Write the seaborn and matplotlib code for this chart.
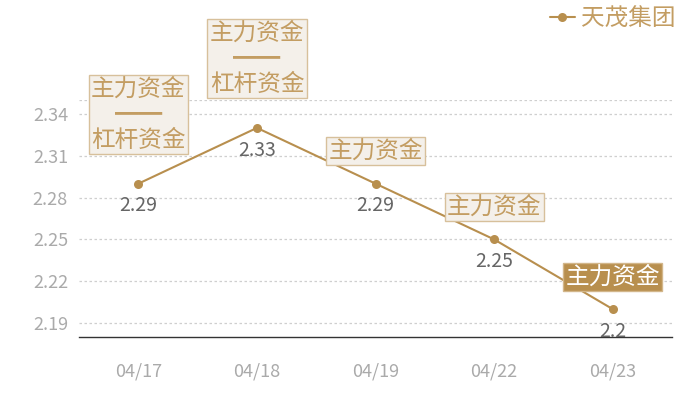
import matplotlib
matplotlib.use("Agg")
import matplotlib.pyplot as plt
import seaborn as sns
import pandas as pd

dates = ["04/17", "04/18", "04/19", "04/22", "04/23"]
values = [2.29, 2.33, 2.29, 2.25, 2.20]
notes = ["主力资金\n━━\n杠杆资金", "主力资金\n━━\n杠杆资金", "主力资金", "主力资金", "主力资金"]
highlight = [False, False, False, False, True]
series_name = "天茂集团"
yticks = [2.19, 2.22, 2.25, 2.28, 2.31, 2.34]

GOLD = "#b88f4e"
TEXT_GOLD = "#c39d62"

sns.set_theme(style="white")
plt.rcParams["font.family"] = ["Noto Sans CJK SC", "DejaVu Sans"]

df = pd.DataFrame({"date": dates, "value": values, "series": series_name})

fig = plt.figure(figsize=(7, 4), dpi=100)
ax = fig.add_axes([0.113, 0.1575, 0.847, 0.5925])

sns.lineplot(data=df, x="date", y="value", hue="series", palette=[GOLD],
             marker="o", markersize=6.5, markeredgewidth=0, linewidth=1.5,
             sort=False, ax=ax)

ax.set_xlim(-0.5, len(dates) - 0.5)
ax.set_ylim(2.18, 2.35)
ax.set_yticks(yticks)
ax.set_yticklabels([f"{t:.2f}" for t in yticks])
for y in yticks + [2.35]:
    ax.axhline(y, color="#cfcfcf", lw=0.9, ls=(0, (2, 2)), zorder=0)
ax.set_xlabel("")
ax.set_ylabel("")
for s in ["top", "right", "left"]:
    ax.spines[s].set_visible(False)
ax.spines["bottom"].set_color("#333333")
ax.spines["bottom"].set_linewidth(1.0)
ax.tick_params(axis="x", length=0, pad=18, labelsize=13, labelcolor="#aaaaaa")
ax.tick_params(axis="y", length=0, pad=8, labelsize=13, labelcolor="#aaaaaa")

for i, (v, n, h) in enumerate(zip(values, notes, highlight)):
    ax.annotate(f"{v:g}", (i, v), xytext=(0, -16), textcoords="offset points",
                ha="center", va="center", fontsize=14, color="#666666")
    two = "\n" in n
    off = 23 if two else 15
    if h:
        bbox = dict(boxstyle="square,pad=0.1", fc=GOLD, ec="#d2b68a", lw=1)
        col = "white"
    else:
        bbox = dict(boxstyle="square,pad=0.1", fc="#f4f0ea", ec="#d7c09b", lw=1)
        col = TEXT_GOLD
    ax.annotate(n, (i, v), xytext=(0, off), textcoords="offset points",
                ha="center", va="bottom", fontsize=17, color=col,
                linespacing=1.15, bbox=bbox, multialignment="center",
                annotation_clip=False, zorder=5)

leg = ax.legend(loc="upper right", bbox_to_anchor=(0.978, 1.006),
                bbox_transform=fig.transFigure, frameon=False,
                fontsize=17, handlelength=1.05, handletextpad=0.25,
                borderaxespad=0)
for t in leg.get_texts():
    t.set_color(TEXT_GOLD)

fig.savefig("out.png", dpi=100)
